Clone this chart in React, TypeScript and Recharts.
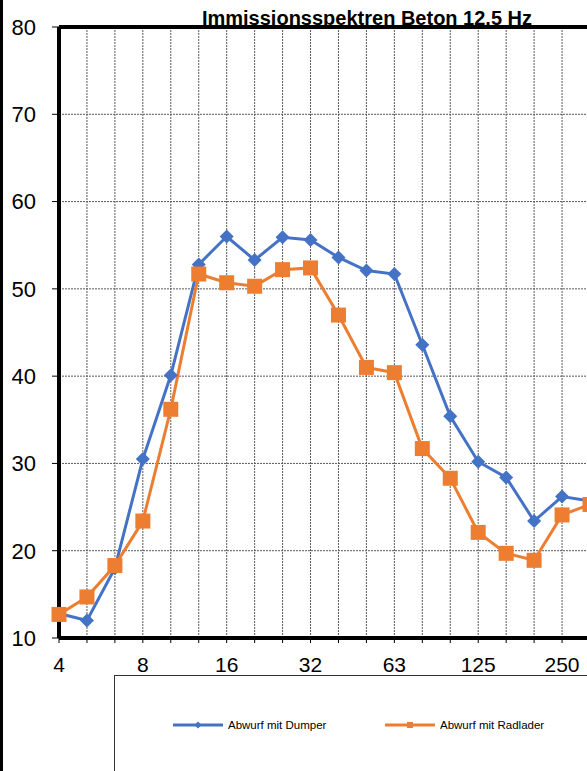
import React from "react";
import {
  LineChart,
  Line,
  XAxis,
  YAxis,
  CartesianGrid,
  ReferenceLine,
} from "recharts";

// third-octave bands in Hz (only the part that is visible)
const bands = [
  "4", "5", "6.3", "8", "10", "12.5", "16", "20", "25", "32",
  "40", "50", "63", "80", "100", "125", "160", "200", "250", "315",
];
const dumper = [
  12.8, 12.0, 18.0, 30.5, 40.1, 52.8, 56.0, 53.3, 55.9, 55.6,
  53.6, 52.1, 51.7, 43.6, 35.4, 30.2, 28.4, 23.4, 26.2, 25.7,
];
const radlader = [
  12.7, 14.7, 18.3, 23.4, 36.2, 51.7, 50.7, 50.3, 52.2, 52.4,
  47.0, 41.0, 40.4, 31.7, 28.3, 22.1, 19.7, 18.9, 24.1, 25.3,
];
const yTicks = [10, 20, 30, 40, 50, 60, 70, 80];
const names = ["Abwurf mit Dumper", "Abwurf mit Radlader"];
const title = "Immissionsspektren Beton 12.5 Hz";

const BLUE = "#4472C4";
const ORANGE = "#ED7D31";
const FONT = "'Liberation Sans', Arial, sans-serif";

const data = bands.map((b, i) => ({
  band: b,
  dumper: dumper[i],
  radlader: radlader[i],
}));

const Diamond = (props: any) => {
  const { cx, cy, index } = props;
  if (cx == null || cy == null) return <g key={index} />;
  const r = 7;
  return (
    <path
      key={index}
      d={`M${cx},${cy - r}L${cx + r},${cy}L${cx},${cy + r}L${cx - r},${cy}Z`}
      fill={BLUE}
    />
  );
};

const Square = (props: any) => {
  const { cx, cy, index } = props;
  if (cx == null || cy == null) return <g key={index} />;
  const s = 15;
  return (
    <rect key={index} x={cx - s / 2} y={cy - s / 2} width={s} height={s} fill={ORANGE} />
  );
};

// label only every third band, tick marks on all of them
const XTick = ({ x, y, payload, index }: any) => {
  if (index % 3 !== 0) return <g />;
  return (
    <text
      x={x}
      y={y}
      dy="0.71em"
      textAnchor="middle"
      fontSize={21}
      fontFamily={FONT}
      fill="#000"
    >
      {payload.value}
    </text>
  );
};

export default function App() {
  return (
    <div
      style={{
        position: "relative",
        width: 587,
        height: 771,
        overflow: "hidden",
        background: "#fff",
        fontFamily: FONT,
      }}
    >
      <style>{"body{margin:0}"}</style>
      <div
        style={{
          position: "absolute",
          left: 0,
          top: 0,
          width: 3,
          height: 771,
          background: "#000",
        }}
      />
      <div
        style={{
          position: "absolute",
          left: 167,
          width: 400,
          top: 7,
          textAlign: "center",
          fontWeight: "bold",
          fontSize: 20,
          lineHeight: "23px",
          color: "#000",
        }}
      >
        {title}
      </div>
      <div style={{ position: "absolute", left: 0, top: 0 }}>
        <LineChart
          width={600}
          height={680}
          data={data}
          margin={{ top: 27, right: 10, left: 0, bottom: 0 }}
        >
          <CartesianGrid stroke="#5a5a5a" strokeDasharray="2 1" strokeWidth={1} />
          <XAxis
            dataKey="band"
            interval={0}
            height={42}
            tick={<XTick />}
            tickSize={5}
            tickMargin={14}
            tickLine={{ stroke: "#000" }}
            axisLine={{ stroke: "#000", strokeWidth: 4 }}
          />
          <YAxis
            domain={[10, 80]}
            ticks={yTicks}
            width={59}
            tickSize={7}
            tickMargin={16}
            tickLine={{ stroke: "#000" }}
            axisLine={{ stroke: "#000", strokeWidth: 4 }}
            tick={{ fontSize: 22, fill: "#000", fontFamily: FONT }}
          />
          <ReferenceLine y={80} stroke="#000" strokeWidth={4} />
          <Line
            dataKey="dumper"
            name={names[0]}
            stroke={BLUE}
            strokeWidth={3}
            dot={Diamond}
            isAnimationActive={false}
          />
          <Line
            dataKey="radlader"
            name={names[1]}
            stroke={ORANGE}
            strokeWidth={3}
            dot={Square}
            isAnimationActive={false}
          />
        </LineChart>
      </div>
      <div
        style={{
          position: "absolute",
          left: 114,
          top: 675,
          width: 600,
          height: 200,
          border: "1px solid #333",
          background: "#fff",
        }}
      >
        <svg width={600} height={120} style={{ position: "absolute", left: -1, top: -1 }}>
          <line x1={59} x2={109} y1={50} y2={50} stroke={BLUE} strokeWidth={3} />
          <path d="M84,46.5L87.5,50L84,53.5L80.5,50Z" fill={BLUE} />
          <text x={114} y={50} dy="0.355em" fontSize={11.5} fontFamily={FONT} fill="#000">
            {names[0]}
          </text>
          <line x1={271} x2={321} y1={50} y2={50} stroke={ORANGE} strokeWidth={3} />
          <rect x={293} y={47} width={6} height={6} fill={ORANGE} />
          <text x={326} y={50} dy="0.355em" fontSize={11.5} fontFamily={FONT} fill="#000">
            {names[1]}
          </text>
        </svg>
      </div>
    </div>
  );
}
